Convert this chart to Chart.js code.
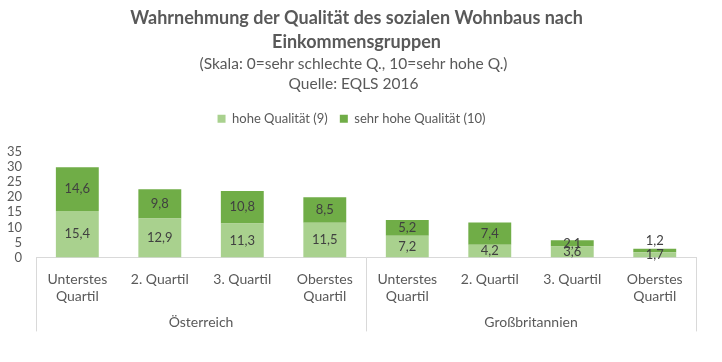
<!DOCTYPE html>
<html>
<head>
<meta charset="utf-8">
<script src="https://cdn.jsdelivr.net/npm/chart.js@4"></script>
<style>
	body { margin: 0; background: #fff; }
	#wrap { width: 722px; height: 362px; }
</style>
</head>
<body>
<div id="wrap"><canvas id="graphique"></canvas></div>
<script>
const laender = ["Österreich", "Großbritannien"];
const quartile = [["Unterstes", "Quartil"], "2. Quartil", "3. Quartil", ["Oberstes", "Quartil"]];
const hoheQualitaet = [15.4, 12.9, 11.3, 11.5, 7.2, 4.2, 3.6, 1.7];
const sehrHoheQualitaet = [14.6, 9.8, 10.8, 8.5, 5.2, 7.4, 2.1, 1.2];
const yTicks = [0, 5, 10, 15, 20, 25, 30, 35];

const labels = [];
for (let i = 0; i < laender.length; i++) {
	for (let q of quartile) labels.push(q);
}

const police = "Lato, 'Open Sans', sans-serif";
const gris = "#595959";

// un peu d'espace sous la légende, titres un peu décalés vers la droite
const miseEnPage = {
	id: "miseEnPage",
	beforeInit(chart) {
		const fit = chart.legend.fit;
		chart.legend.fit = function () {
			fit.call(this);
			this.height += 17;
		};
	},
	afterLayout(chart) {
		for (let box of chart.boxes) {
			if (box.position !== "top") continue;
			const dx = box === chart.legend ? 3 : box === chart.titleBlock ? 8 : 5;
			box.left += dx;
			box.right += dx;
		}
	},
};

// valeurs dans les barres
const etiquettes = {
	id: "etiquettes",
	afterDatasetsDraw(chart) {
		const ctx = chart.ctx;
		ctx.save();
		ctx.font = "13px " + police;
		ctx.fillStyle = "#404040";
		ctx.textAlign = "center";
		ctx.textBaseline = "middle";
		chart.data.datasets.forEach((ds, d) => {
			const meta = chart.getDatasetMeta(d);
			meta.data.forEach((bar, i) => {
				let y = (bar.y + bar.base) / 2;
				if (d === 1 && Math.abs(bar.base - bar.y) < 5) y = bar.y - 8;
				ctx.fillText(ds.data[i].toFixed(1).replace(".", ","), bar.x, y);
			});
		});
		ctx.restore();
	},
};

// groupes de pays sous l'axe
const groupes = {
	id: "groupes",
	afterDraw(chart) {
		const ctx = chart.ctx;
		const x = chart.scales.x;
		const bas = chart.chartArea.bottom;
		const n = quartile.length;
		ctx.save();
		ctx.strokeStyle = "#d9d9d9";
		ctx.lineWidth = 1;
		const bords = [x.left];
		for (let g = 1; g < laender.length; g++) {
			bords.push((x.getPixelForTick(g * n - 1) + x.getPixelForTick(g * n)) / 2);
		}
		bords.push(x.right);
		for (let b of bords) {
			ctx.beginPath();
			ctx.moveTo(Math.round(b) + 0.5, bas);
			ctx.lineTo(Math.round(b) + 0.5, bas + 74);
			ctx.stroke();
		}
		ctx.font = "14px " + police;
		ctx.fillStyle = gris;
		ctx.textAlign = "center";
		ctx.textBaseline = "middle";
		for (let g = 0; g < laender.length; g++) {
			ctx.fillText(laender[g], (bords[g] + bords[g + 1]) / 2, bas + 65);
		}
		ctx.restore();
	},
};

const data = {
	labels: labels,
	datasets: [
		{
			label: "hohe Qualität (9)",
			data: hoheQualitaet,
			backgroundColor: "#a9d18e",
		},
		{
			label: "sehr hohe Qualität (10)",
			data: sehrHoheQualitaet,
			backgroundColor: "#70ad47",
		},
	],
};

const config = {
	type: "bar",
	data: data,
	plugins: [miseEnPage, etiquettes, groupes],
	options: {
		responsive: true,
		maintainAspectRatio: false,
		animation: false,
		layout: { padding: { left: 1, right: 26, top: 6, bottom: 51 } },
		datasets: { bar: { barPercentage: 0.52, categoryPercentage: 1 } },
		plugins: {
			title: {
				display: true,
				text: ["Wahrnehmung der Qualität des sozialen Wohnbaus nach", "Einkommensgruppen"],
				color: gris,
				font: { family: police, size: 18, weight: "bold", lineHeight: 1.33 },
				padding: { top: 0, bottom: 0 },
			},
			subtitle: {
				display: true,
				text: ["(Skala: 0=sehr schlechte Q., 10=sehr hohe Q.)", "Quelle: EQLS 2016"],
				color: gris,
				font: { family: police, size: 15.5, lineHeight: 1.3 },
				padding: { top: 0, bottom: 6 },
			},
			legend: {
				labels: {
					color: gris,
					font: { family: police, size: 13 },
					boxWidth: 8,
					boxHeight: 8,
					padding: 12,
				},
			},
			tooltip: { enabled: false },
		},
		scales: {
			x: {
				stacked: true,
				grid: { display: false },
				border: { color: "#d9d9d9" },
				ticks: { color: gris, font: { family: police, size: 14 }, maxRotation: 0, padding: 6 },
			},
			y: {
				stacked: true,
				min: 0,
				max: 35,
				afterBuildTicks: (axis) => { axis.ticks = yTicks.map((v) => ({ value: v })); },
				grid: { display: false },
				border: { display: false },
				ticks: { color: gris, font: { family: police, size: 13 }, padding: 6, autoSkip: false },
			},
		},
	},
};

new Chart(document.getElementById("graphique"), config);
</script>
</body>
</html>
